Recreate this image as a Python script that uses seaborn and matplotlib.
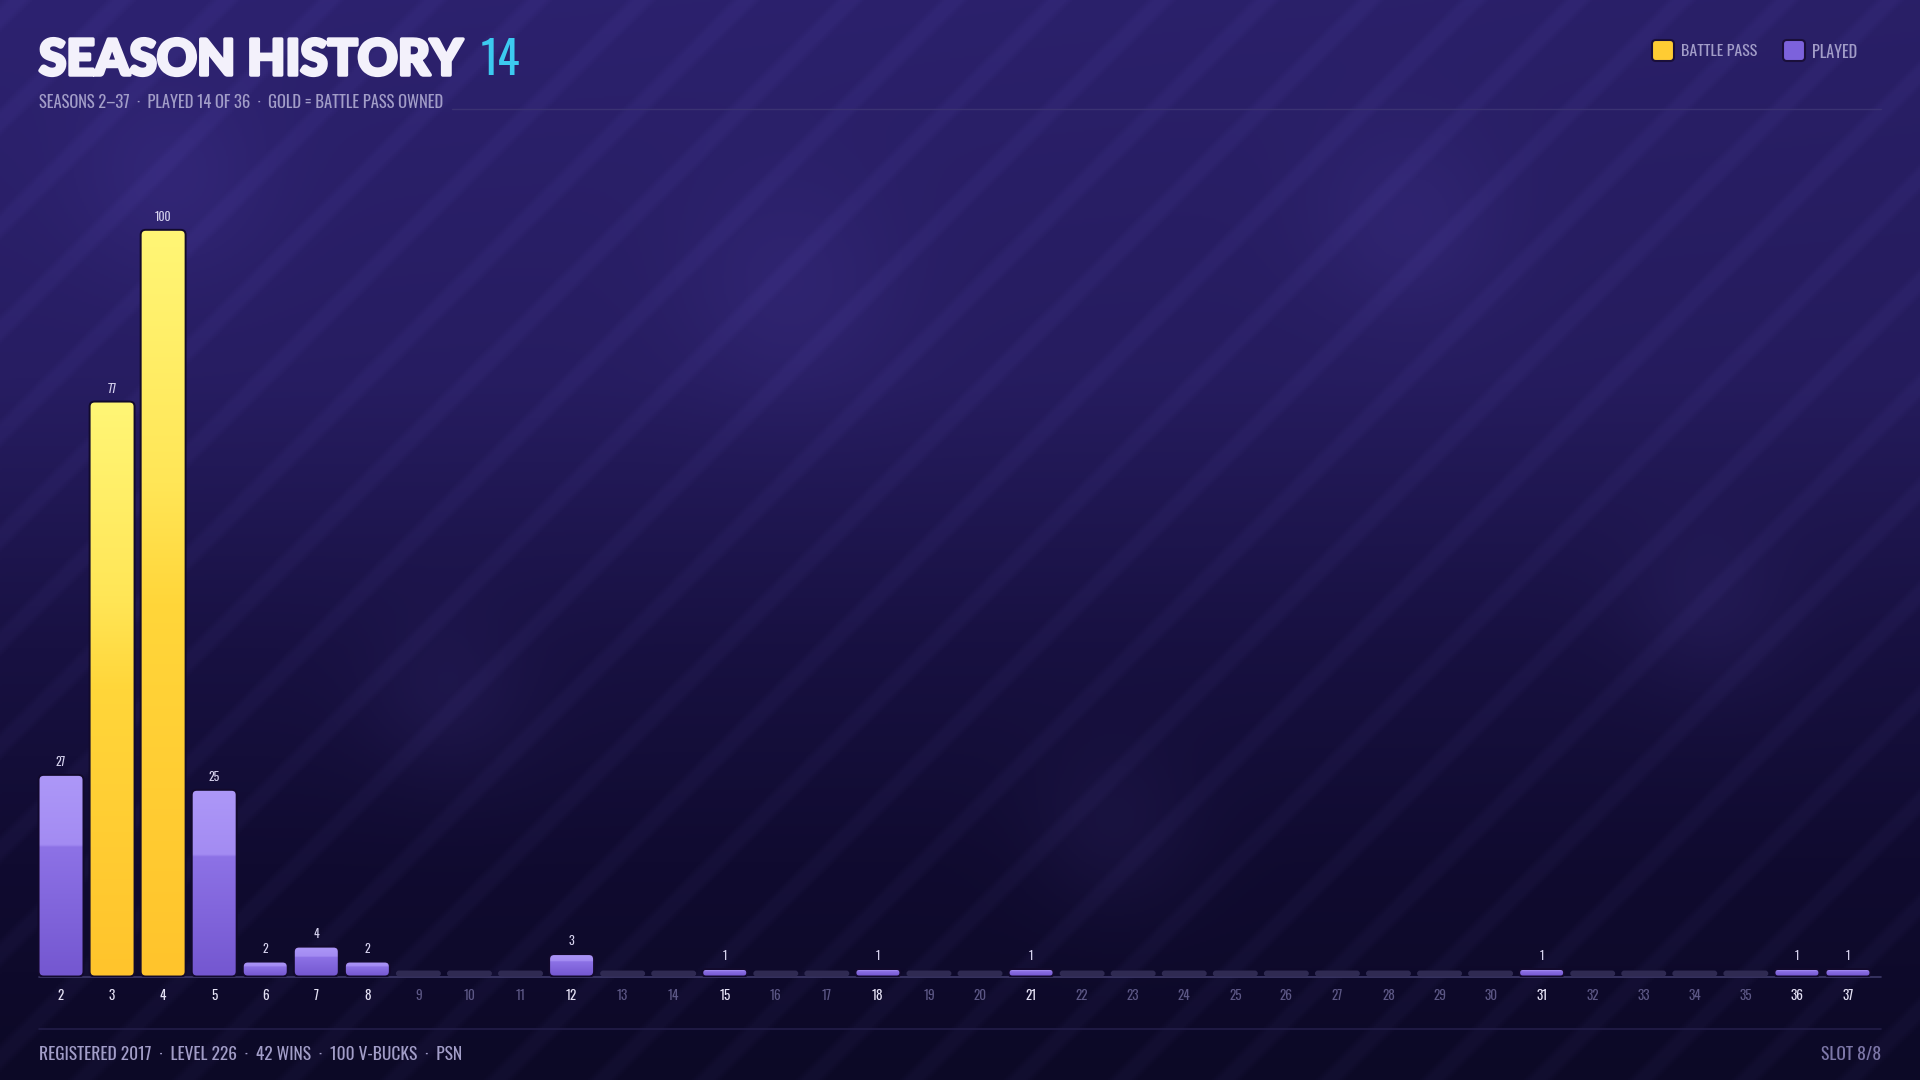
import numpy as np
import pandas as pd
import matplotlib
matplotlib.use('Agg')
import matplotlib.pyplot as plt
from matplotlib import font_manager as fm
from matplotlib import patheffects as pe
from matplotlib.patches import FancyBboxPatch
from matplotlib.colors import to_rgb
import seaborn as sns

# Data
seasons = list(range(2, 38))
levels = [27, 77, 100, 25, 2, 4, 2, 0, 0, 0, 3, 0, 0, 1, 0, 0, 1, 0, 0, 1,
          0, 0, 0, 0, 0, 0, 0, 0, 0, 1, 0, 0, 0, 0, 1, 1]
battle_pass = [3, 4]

title_text = 'SEASON HISTORY'
title_count = '14'
subtitle_text = 'SEASONS 2\u201337  \u00b7  PLAYED 14 OF 36  \u00b7  GOLD = BATTLE PASS OWNED'
footer_left = 'REGISTERED 2017  \u00b7  LEVEL 226  \u00b7  42 WINS  \u00b7  100 V-BUCKS  \u00b7  PSN'
footer_right = 'SLOT 8/8'
legend_labels = ['BATTLE PASS', 'PLAYED']

GOLD = '#ffcc33'
PURPLE = '#7b5fd9'
TEXT_DIM = '#a29dc8'


def pick(cands):
    for c in cands:
        try:
            fm.findfont(fm.FontProperties(family=c), fallback_to_default=False)
            return c
        except ValueError:
            pass
    return 'DejaVu Sans'


sns.set_theme(style='dark')
cond_name = pick(['Oswald', 'Roboto Condensed', 'Liberation Sans Narrow',
                  'Open Sans Condensed', 'Noto Sans Display', 'Roboto'])
COND = [cond_name, 'DejaVu Sans']
TITLE = [pick(['Lato', 'Inter', 'Roboto']), 'DejaVu Sans']
plt.rcParams['font.family'] = COND

W, H = 1920, 1080
fig = plt.figure(figsize=(19.2, 10.8), dpi=100)
renderer = fig.canvas.get_renderer()


def fit(txt, target, maxfs):
    # shrink a text until it spans the width it has in the reference
    w = txt.get_window_extent(renderer).width
    if w > target:
        txt.set_fontsize(txt.get_fontsize() * target / w)
    txt.set_fontsize(min(txt.get_fontsize(), maxfs))
    return txt


# background: vertical gradient + diagonal stripes + soft blobs
bg = fig.add_axes([0, 0, 1, 1], zorder=0)
yy, xx = np.mgrid[0:H:2, 0:W:2].astype(float)
t = yy / H
stops_t = [0.0, 0.35, 0.6, 0.8, 1.0]
stops_c = [to_rgb('#2d2270'), to_rgb('#271d62'), to_rgb('#181142'),
           to_rgb('#100b30'), to_rgb('#0c0926')]
img = np.zeros(xx.shape + (3,))
for k in range(3):
    img[..., k] = np.interp(t, stops_t, [c[k] for c in stops_c])
img *= (1 - 0.08 * (xx / W) * (1 - t))[..., None]
phase = np.mod(xx + yy, 104.0)
stripe = np.clip(1 - np.abs(phase - 16) / 16, 0, 1)
stripe = np.clip(stripe * 1.8, 0, 1)
img += stripe[..., None] * np.array([0.022, 0.02, 0.035])
for bx, by, br in [(171, 184, 70), (790, 294, 80), (1408, 227, 70),
                   (447, 698, 60), (1114, 833, 60), (1708, 612, 60)]:
    g = np.exp(-((xx - bx) ** 2 + (yy - by) ** 2) / (2 * br ** 2))
    img += g[..., None] * np.array([0.03, 0.025, 0.05])
img = np.clip(img, 0, 1)
bg.imshow(img, extent=[0, W, 0, H], aspect='auto', origin='upper')
bg.set_xlim(0, W)
bg.set_ylim(0, H)
bg.axis('off')


def fy(y):
    return H - y


# header
title = bg.text(39, fy(75), title_text, family=TITLE, weight='black',
                fontsize=36, color='#f3f1fb', ha='left', va='baseline',
                path_effects=[pe.withStroke(linewidth=2.5, foreground='#f3f1fb')])
fit(title, 423, 36)
bg.text(481, fy(75), title_count, family=COND, fontsize=33, color='#3ccaf0',
        ha='left', va='baseline')
sub = bg.text(39, fy(108.5), subtitle_text, family=COND, fontsize=13,
              color=TEXT_DIM, ha='left', va='baseline')
fit(sub, 407, 13)
bg.plot([452, 1881], [fy(108.5)] * 2, color='#3a3272', lw=1)

# legend
for (lx, tx, col, lab, tw) in [(1652, 1681, GOLD, legend_labels[0], 76),
                               (1783, 1812, '#7c62dc', legend_labels[1], 45)]:
    bg.add_patch(FancyBboxPatch((lx, fy(61)), 22, 21,
                                boxstyle='round,pad=0,rounding_size=4',
                                facecolor=col, edgecolor='#1a0f3a', lw=1.5))
    lt = bg.text(tx, fy(52), lab, family=COND, fontsize=13, color=TEXT_DIM,
                 ha='left', va='center')
    fit(lt, tw, 13)

# footer
bg.plot([39, 1881], [fy(1029)] * 2, color='#221d48', lw=1.2)
ft = bg.text(39, fy(1054), footer_left, family=COND, fontsize=13,
             color=TEXT_DIM, ha='left', va='center')
fit(ft, 420, 13)
fr = bg.text(1881, fy(1054), footer_right, family=COND, fontsize=13,
             color='#7d77a8', ha='right', va='center')
fit(fr, 60, 13)
bg.plot([39, 1881], [fy(976.5)] * 2, color='#3d3868', lw=1.2)

# bars
played = [v > 0 for v in levels]
STUB = 0.8
df = pd.DataFrame({
    'season': [str(s) for s in seasons],
    'height': [v if v > 0 else STUB for v in levels],
})

ax = fig.add_axes([35.5 / W, (H - 976.5) / H, 1838 / W, 784 / H], zorder=1)
ax.patch.set_alpha(0)
sns.barplot(data=df, x='season', y='height', color=PURPLE, width=0.88,
            saturation=1, ax=ax)
ax.set_xlim(-0.5, len(seasons) - 0.5)
ax.set_ylim(0, 105)
for s in ax.spines.values():
    s.set_visible(False)
ax.grid(False)
ax.set_yticks([])
ax.set_xlabel('')
ax.set_ylabel('')

fig.canvas.draw()
p0 = ax.transData.transform((0, 0))
p1 = ax.transData.transform((1, 1))
px_x = p1[0] - p0[0]
px_y = p1[1] - p0[1]
aspect = px_x / px_y


def grad_colors(kind):
    if kind == 'gold':
        tt = [0.0, 0.5, 0.66, 1.0]
        cc = ['#ffc42c', '#ffd63a', '#ffe657', '#fff676']
    else:
        tt = [0.0, 0.64, 0.65, 1.0]
        cc = ['#7457d0', '#8d72e6', '#a38bf2', '#ad98f8']
    return tt, [to_rgb(c) for c in cc]


for i, patch in enumerate(list(ax.patches)):
    x0, y0 = patch.get_x(), patch.get_y()
    w, h = patch.get_width(), patch.get_height()
    patch.set_visible(False)
    r_px = min(5.0, h * px_y / 2)
    rs = r_px / px_x
    season = seasons[i]
    if not played[i]:
        box = FancyBboxPatch((x0, y0), w, h,
                             boxstyle=f'round,pad=0,rounding_size={rs}',
                             mutation_aspect=aspect, facecolor='#2f2a52',
                             edgecolor='none', zorder=3)
        ax.add_patch(box)
        continue
    kind = 'gold' if season in battle_pass else 'purple'
    tt, cc = grad_colors(kind)
    n = 200
    rel = np.linspace(1, 0, n)
    grad = np.zeros((n, 1, 3))
    for k in range(3):
        grad[:, 0, k] = np.interp(rel, tt, [c[k] for c in cc])
    box = FancyBboxPatch((x0, y0), w, h,
                         boxstyle=f'round,pad=0,rounding_size={rs}',
                         mutation_aspect=aspect, facecolor='none',
                         edgecolor='#120a2c', lw=1.4, zorder=4)
    ax.add_patch(box)
    im = ax.imshow(grad, extent=[x0, x0 + w, y0, y0 + h], aspect='auto',
                   origin='upper', zorder=3, interpolation='bilinear')
    im.set_clip_path(box)
    ax.annotate(str(levels[i]), (x0 + w / 2, h), xytext=(0, 5),
                textcoords='offset points', ha='center', va='bottom',
                family=COND, fontsize=8.5, color='#d6d2ee')

ax.set_xlim(-0.5, len(seasons) - 0.5)
ax.set_ylim(0, 105)

# tick labels
ax.set_xticks(range(len(seasons)))
ax.set_xticklabels([str(s) for s in seasons], family=COND, fontsize=9.5)
for lab, p in zip(ax.get_xticklabels(), played):
    lab.set_color('#e4e1f4' if p else '#5c5785')
    if p:
        lab.set_fontweight('medium')
ax.tick_params(axis='x', length=0, pad=9)

fig.savefig('out.png', dpi=100, facecolor='#0c0926')
